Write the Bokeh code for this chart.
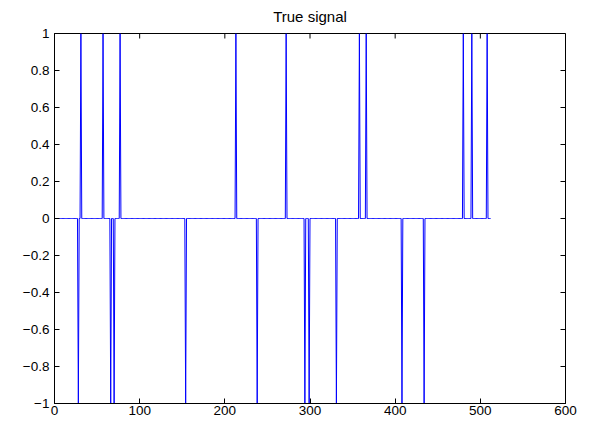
import numpy as np
from bokeh.plotting import figure
from bokeh.models import Range1d, FixedTicker, CustomJSTickFormatter
from bokeh.embed import file_html
from bokeh.resources import INLINE

# ---- data ----
signal_length = 512
pos_spikes = [31, 57, 77, 213, 272, 358, 366, 480, 490, 508]
neg_spikes = [28, 66, 70, 154, 238, 294, 299, 331, 408, 434]
x_ticks = [0, 100, 200, 300, 400, 500, 600]
y_ticks = [-1.0, -0.8, -0.6, -0.4, -0.2, 0.0, 0.2, 0.4, 0.6, 0.8, 1.0]

signal = np.zeros(signal_length)
signal[np.array(pos_spikes) - 1] = 1.0
signal[np.array(neg_spikes) - 1] = -1.0
idx = np.arange(1, signal_length + 1)

FONT = "Liberation Sans"
FS = "13.5px"

p = figure(width=596, height=423, output_backend="svg", toolbar_location=None,
           x_range=Range1d(x_ticks[0], x_ticks[-1]), y_range=Range1d(y_ticks[0], y_ticks[-1]),
           min_border_left=54, min_border_right=31, min_border_top=32, min_border_bottom=20)

p.line(idx, signal, line_color="#0000ff", line_width=1)

# inward ticks on the top and right edges (box on), clipped to the frame
p.scatter(x=x_ticks, y=[y_ticks[-1]] * len(x_ticks), marker="dash", angle=np.pi / 2,
          size=10, line_color="black", line_width=1)
p.scatter(x=[x_ticks[-1]] * len(y_ticks), y=y_ticks, marker="dash",
          size=10, line_color="black", line_width=1)

p.title.text = "True signal"
p.title.align = "center"
p.title.vertical_align = "top"
p.title.text_font = FONT
p.title.text_font_size = "15px"
p.title.text_font_style = "normal"
p.title.text_color = "black"
p.title.offset = 0
p.title.standoff = 14

p.xgrid.visible = False
p.ygrid.visible = False
p.outline_line_color = "black"
p.outline_line_alpha = 1
p.background_fill_color = "white"

fmt = CustomJSTickFormatter(code="""
var a = Math.abs(tick);
var s = (Math.round(a*10)/10).toString();
return (tick < -1e-9 ? "\\u2212" : "") + s;
""")

for ax, ticks, standoff in ((p.xaxis[0], x_ticks, 2), (p.yaxis[0], y_ticks, 5)):
    ax.ticker = FixedTicker(ticks=ticks)
    ax.formatter = fmt
    ax.axis_line_color = "black"
    ax.major_tick_line_color = "black"
    ax.major_tick_in = 5
    ax.major_tick_out = 0
    ax.minor_tick_line_color = None
    ax.major_label_text_font = FONT
    ax.major_label_text_font_size = FS
    ax.major_label_text_color = "black"
    ax.major_label_standoff = standoff

open("out.html", "w").write(file_html(p, INLINE))
